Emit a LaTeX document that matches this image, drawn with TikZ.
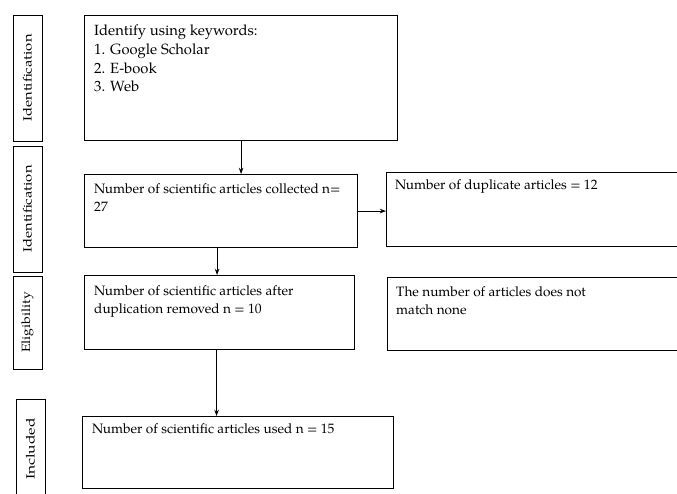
\documentclass[tikz,border=0pt]{standalone}
\usepackage{fontspec}
\setmainfont{TeX Gyre Pagella}
\usepackage{graphicx}
\usetikzlibrary{arrows.meta}
\tikzset{
  caja/.style={draw, line width=0.4mm, rectangle, inner sep=0pt},
  texto/.style={anchor=north west, align=left, inner sep=0pt, font=\fontsize{13.6}{18.6}\selectfont},
  etapa/.style={draw, line width=0.35mm, rectangle, rotate=90, inner sep=0pt, minimum height=29pt, font=\fontsize{12}{14}\selectfont},
  flecha/.style={line width=0.35mm, -{Stealth[length=2.2mm, width=1.6mm]}}
}
\begin{document}
\begin{tikzpicture}[x=1pt, y=-1pt]
        \useasboundingbox (0,0) rectangle (677,493);
        %%%%%%%%%%%%%%%%%%%%%%%% Etapas %%%%%%%%%%%%%%%%%%%%%%%%%%%%%%%%%%%
        \node[etapa, minimum width=126pt] (ident1) at (27.5,78) {\scalebox{1.23}[1]{Identification}};
        \node[etapa, minimum width=126pt] (ident2) at (27.5,209) {\scalebox{1.23}[1]{Identification}};
        \node[etapa, minimum width=93pt] (elig) at (27.5,322.5) {\scalebox{1.17}[1]{Eligibility}};
        \node[etapa, minimum width=100pt] (incl) at (30.5,449) {\scalebox{1.3}[1]{Included}};
        %%%%%%%%%%%%%%%%%%%%%%%% Cajas %%%%%%%%%%%%%%%%%%%%%%%%%%%%%%%%%%%%
        \node[caja, anchor=north west, minimum width=313pt, minimum height=125pt] (busqueda) at (84,15) {};
        \node[caja, anchor=north west, minimum width=273pt, minimum height=73pt] (recogidos) at (84,174) {};
        \node[caja, anchor=north west, minimum width=310pt, minimum height=74pt] (duplicados) at (386,172) {};
        \node[caja, anchor=north west, minimum width=270pt, minimum height=74pt] (filtrados) at (84,275) {};
        \node[caja, anchor=north west, minimum width=310pt, minimum height=73pt] (descartados) at (387,277) {};
        \node[caja, anchor=north west, minimum width=311pt, minimum height=72pt] (usados) at (82,416) {};
        %%%%%%%%%%%%%%%%%%%%%%%% Textos %%%%%%%%%%%%%%%%%%%%%%%%%%%%%%%%%%%
        \node[texto, font=\fontsize{14.8}{18.6}\selectfont] (tbusqueda) at ([xshift=10pt, yshift=-10pt]busqueda.north west)
          {Identify using keywords:\\1. Google Scholar\\2. E-book\\3. Web};
        \node[texto] (trecogidos) at ([xshift=10pt, yshift=-9pt]recogidos.north west)
          {Number of scientific articles collected n=\\27};
        \node[texto] (tduplicados) at ([xshift=9pt, yshift=-7pt]duplicados.north west)
          {Number of duplicate articles = 12};
        \node[texto] (tfiltrados) at ([xshift=10pt, yshift=-10pt]filtrados.north west)
          {Number of scientific articles after\\duplication removed n = 10};
        \node[texto] (tdescartados) at ([xshift=9pt, yshift=-9pt]descartados.north west)
          {The number of articles does not\\match none};
        \node[texto] (tusados) at ([xshift=10pt, yshift=-7pt]usados.north west)
          {Number of scientific articles used n = 15};
        %%%%%%%%%%%%%%%%%%%%%%%% Flechas %%%%%%%%%%%%%%%%%%%%%%%%%%%%%%%%%%
        \draw[flecha] (busqueda.south) -- (busqueda.south |- recogidos.north);
        \draw[flecha] (recogidos.east) -- (recogidos.east -| duplicados.west);
        \draw[flecha] ([xshift=-4pt]recogidos.south) -- ([xshift=-4pt]recogidos.south |- filtrados.north);
        \draw[flecha] ([xshift=-3pt]filtrados.south) -- ([xshift=-3pt]filtrados.south |- usados.north);
\end{tikzpicture}
\end{document}
